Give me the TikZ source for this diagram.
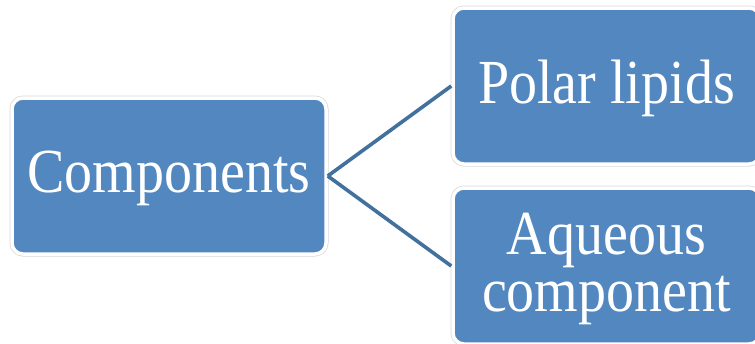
\documentclass[tikz,border=0pt]{standalone}
\usepackage{graphicx}
\usepackage{fontspec}
\setmainfont{Liberation Serif}
\definecolor{boxblue}{HTML}{5287C0}
\definecolor{linkblue}{HTML}{41719C}
% labels are set slightly taller than their natural shape and sit a little low
\newcommand\tallstack[1]{\raisebox{-4pt}[\height][\depth]{\scalebox{1}[1.12]{\begin{tabular}{@{}c@{}}#1\end{tabular}}}}
\begin{document}
\begin{tikzpicture}[x=1pt,y=-1pt,
  box/.style={preaction={draw=gray!30,line width=5pt},
    draw=white,line width=3.5pt,fill=boxblue,rounded corners=11pt,
    text=white,align=center,inner sep=0pt,
    font=\fontsize{56}{48}\selectfont},
  link/.style={draw=linkblue,line width=3.6pt}]
\useasboundingbox (0,0) rectangle (755,343);
\clip (0,0) rectangle (755,343);
\fill[white] (0,0) rectangle (755,343);
\node[box,minimum width=314pt,minimum height=156pt] (comp) at (169,176) {\tallstack{Components}};
\node[box,minimum width=307pt,minimum height=156pt] (polar) at (606.5,86) {\tallstack{Polar lipids}};
\node[box,minimum width=307pt,minimum height=156pt] (aq) at (606.5,266) {\tallstack{Aqueous\\[3pt]component}};
\draw[link] (comp.east) -- (polar.west);
\draw[link] (comp.east) -- (aq.west);
\end{tikzpicture}
\end{document}
